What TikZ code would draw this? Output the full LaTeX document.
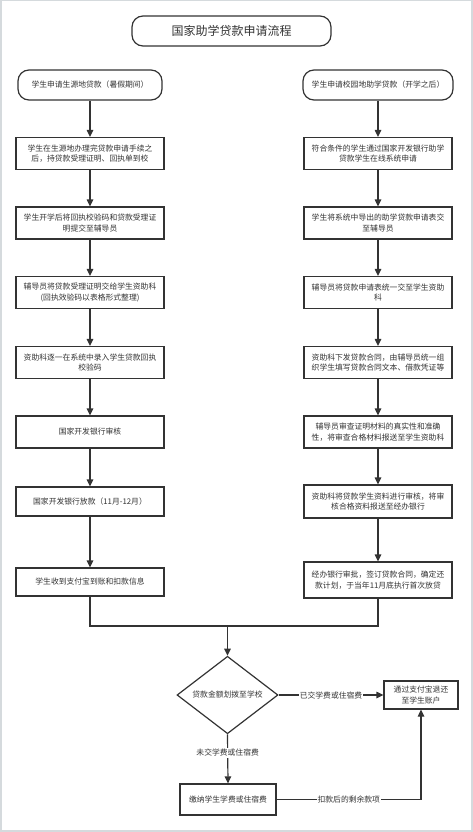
\documentclass[tikz,border=0pt]{standalone}
\usepackage{fontspec}
\setmainfont{Noto Sans CJK SC}
\usetikzlibrary{arrows.meta,shapes.geometric}
\usepackage{xcolor}
\definecolor{ink}{HTML}{333333}
\definecolor{edgegray}{HTML}{D5DADD}

\begin{document}
\begin{tikzpicture}[x=1pt, y=-1pt, line width=1.2pt,
  box/.style={draw=ink, fill=white, text=ink, align=center, inner sep=2pt,
    minimum width=148pt, minimum height=32pt, font=\fontsize{7.8}{10.5}\selectfont},
  headbox/.style={box, rounded corners=11pt, minimum height=30pt},
  choice/.style={draw=ink, fill=white, text=ink, diamond, inner sep=0pt,
    minimum width=101pt, minimum height=74pt, font=\fontsize{7.8}{10.5}\selectfont},
  flow/.style={draw=ink, -{Triangle[length=7pt,width=6.5pt]}},
  link/.style={draw=ink},
  tag/.style={fill=white, text=ink, inner sep=1pt, font=\fontsize{7.8}{10.5}\selectfont}]

\useasboundingbox (0,0) rectangle (473,832);
% light frame round the page
\draw[edgegray, line width=1.5pt] (0.75,0.75) rectangle (472,831.2);

% title
\node[headbox, minimum width=199pt, font=\fontsize{12}{14}\selectfont] (title) at (231.5,31) {国家助学贷款申请流程};

% left column: loan at the place of origin
\node[headbox, minimum width=144pt] (srcHead) at (90,85) {学生申请生源地贷款（暑假期间）};
\node[box] (src1) at (90,153.5) {学生在生源地办理完贷款申请手续之\\后，持贷款受理证明、回执单到校};
\node[box] (src2) at (90,223) {学生开学后将回执校验码和贷款受理证\\明提交至辅导员};
\node[box] (src3) at (90,292.5) {辅导员将贷款受理证明交给学生资助科\\(回执效验码以表格形式整理)};
\node[box] (src4) at (90,362.5) {资助科逐一在系统中录入学生贷款回执\\校验码};
\node[box] (src5) at (90,432) {国家开发银行审核};
\node[box, minimum height=29pt] (src6) at (90,501.5) {国家开发银行放款（11月-12月）};
\node[box, minimum height=28pt] (src7) at (90,582) {学生收到支付宝到账和扣款信息};

% right column: campus loan
\node[headbox, minimum width=150pt] (camHead) at (378,85) {学生申请校园地助学贷款（开学之后）};
\node[box] (cam1) at (378,153.5) {符合条件的学生通过国家开发银行助学\\贷款学生在线系统申请};
\node[box] (cam2) at (378,223) {学生将系统中导出的助学贷款申请表交\\至辅导员};
\node[box] (cam3) at (378,292.5) {辅导员将贷款申请表统一交至学生资助\\科};
\node[box] (cam4) at (378,362.5) {资助科下发贷款合同，由辅导员统一组\\织学生填写贷款合同文本、借款凭证等};
\node[box] (cam5) at (378,432) {辅导员审查证明材料的真实性和准确\\性，将审查合格材料报送至学生资助科};
\node[box, minimum height=33pt] (cam6) at (378,501.5) {资助科将贷款学生资料进行审核，将审\\核合格资料报送至经办银行};
\node[box, minimum height=36pt] (cam7) at (378,580) {经办银行审批，签订贷款合同，确定还\\款计划，于当年11月底执行首次放贷};

% bottom part
\node[choice] (grant) at (227.5,695) {贷款金额划拨至学校};
\node[box, minimum width=74pt, minimum height=28pt] (refund) at (421,695) {通过支付宝退还\\至学生账户};
\node[box, minimum width=96pt, minimum height=31pt] (pay) at (228,799.5) {缴纳学生学费或住宿费};
\coordinate (merge) at (227.5,626);

% arrows down the left column
\draw[flow] (srcHead) -- (src1);
\draw[flow] (src1) -- (src2);
\draw[flow] (src2) -- (src3);
\draw[flow] (src3) -- (src4);
\draw[flow] (src4) -- (src5);
\draw[flow] (src5) -- (src6);
\draw[flow] (src6) -- (src7);

% arrows down the right column
\draw[flow] (camHead) -- (cam1);
\draw[flow] (cam1) -- (cam2);
\draw[flow] (cam2) -- (cam3);
\draw[flow] (cam3) -- (cam4);
\draw[flow] (cam4) -- (cam5);
\draw[flow] (cam5) -- (cam6);
\draw[flow] (cam6) -- (cam7);

% both columns meet
\draw[link] (src7.south) |- (merge);
\draw[link] (cam7.south) |- (merge);
\draw[flow] (merge) -- (grant.north);

% branches
\draw[flow] (grant.east) -- node[tag] {已交学费或住宿费} (refund.west);
\draw[flow] (grant.south) -- node[tag, pos=0.38] {未交学费或住宿费} (pay.north);
\draw[flow] (pay.east) -| node[tag, pos=0.25] {扣款后的剩余款项} (refund.south);

\end{tikzpicture}
\end{document}
